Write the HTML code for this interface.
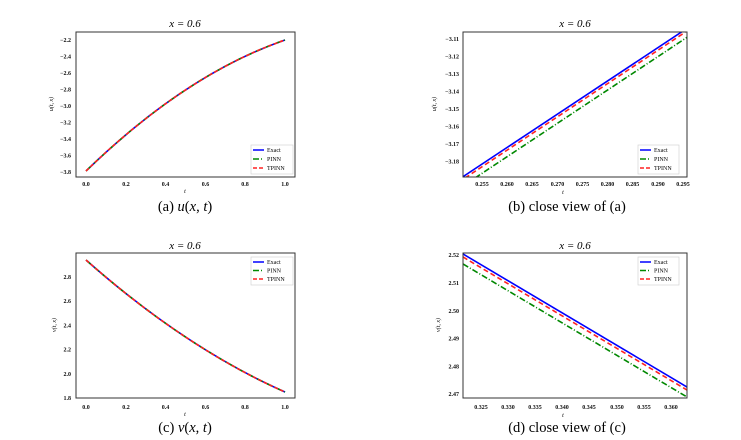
<!DOCTYPE html>
<html><head><meta charset="utf-8"><style>
body{margin:0;background:#fff}
svg{display:block}
.t{font-family:"Liberation Serif",serif;font-size:6px;font-weight:bold;fill:#111}
.ti{font-family:"Liberation Serif",serif;font-size:11px;font-style:italic}
.cap{font-family:"Liberation Serif",serif;font-size:14.5px}
.lg{font-family:"Liberation Serif",serif;font-size:6px}
</style></head><body>
<svg width="741" height="440" viewBox="0 0 741 440" xmlns="http://www.w3.org/2000/svg">
<rect width="741" height="440" fill="#fff"/>
<g id="a">
<text x="185" y="27" text-anchor="middle" class="ti">x = 0.6</text>
<path d="M86,171 Q185.5,74.5 285,40" fill="none" stroke="#00f" stroke-width="1.6"/>
<path d="M86,171 Q185.5,74.5 285,40" fill="none" stroke="#080" stroke-width="1.6" stroke-dasharray="6,2,1,2"/>
<path d="M86,171 Q185.5,74.5 285,40" fill="none" stroke="#f22" stroke-width="1.6" stroke-dasharray="4,2"/>
<rect x="76" y="32" width="219" height="145" fill="none" stroke="#333" stroke-width="1"/>
<g class="t" text-anchor="end">
<text x="71" y="42">−2.2</text><text x="71" y="58.5">−2.4</text><text x="71" y="75">−2.6</text><text x="71" y="91.5">−2.8</text><text x="71" y="108">−3.0</text><text x="71" y="124.5">−3.2</text><text x="71" y="141">−3.4</text><text x="71" y="157.5">−3.6</text><text x="71" y="174">−3.8</text></g>
<g class="t" text-anchor="middle">
<text x="86" y="186">0.0</text><text x="126" y="186">0.2</text><text x="165.5" y="186">0.4</text><text x="205.5" y="186">0.6</text><text x="245" y="186">0.8</text><text x="285" y="186">1.0</text></g>
<text x="185" y="193" class="lg" font-style="italic" text-anchor="middle">t</text>
<text x="53" y="104" class="lg" font-style="italic" text-anchor="middle" transform="rotate(-90 53 104)">u(t, x)</text>
<g><rect x="251" y="145" width="42" height="29" fill="#fff" stroke="#ccc" stroke-width="0.6"/>
<line x1="253" y1="150" x2="264" y2="150" stroke="#00f" stroke-width="1.5"/><text x="267" y="152" class="lg">Exact</text>
<line x1="253" y1="159" x2="264" y2="159" stroke="#080" stroke-width="1.5" stroke-dasharray="6,2,1,2"/><text x="267" y="161" class="lg">PINN</text>
<line x1="253" y1="168" x2="264" y2="168" stroke="#f22" stroke-width="1.5" stroke-dasharray="4,2"/><text x="267" y="170" class="lg">TPINN</text></g>
<text x="185" y="211" text-anchor="middle" class="cap">(a)  <tspan font-style="italic">u</tspan>(<tspan font-style="italic">x</tspan>, <tspan font-style="italic">t</tspan>)</text>
</g>

<g id="b">
<text x="575" y="27" text-anchor="middle" class="ti">x = 0.6</text>
<clipPath id="cb"><rect x="463" y="32" width="224" height="145"/></clipPath>
<g clip-path="url(#cb)">
<line x1="461" y1="178" x2="683" y2="31" stroke="#00f" stroke-width="1.6"/>
<line x1="465" y1="178" x2="687" y2="31" stroke="#f22" stroke-width="1.6" stroke-dasharray="5,3"/>
<line x1="475" y1="178" x2="689" y2="36" stroke="#080" stroke-width="1.6" stroke-dasharray="6,2,1,2"/>
</g>
<rect x="463" y="32" width="224" height="145" fill="none" stroke="#333" stroke-width="1"/>
<g class="t" text-anchor="end">
<text x="459" y="41">−3.11</text><text x="459" y="58.5">−3.12</text><text x="459" y="76">−3.13</text><text x="459" y="93.5">−3.14</text><text x="459" y="111">−3.15</text><text x="459" y="128.5">−3.16</text><text x="459" y="146">−3.17</text><text x="459" y="163.5">−3.18</text></g>
<g class="t" text-anchor="middle">
<text x="482" y="186">0.255</text><text x="507" y="186">0.260</text><text x="532" y="186">0.265</text><text x="557.5" y="186">0.270</text><text x="582.5" y="186">0.275</text><text x="607.5" y="186">0.280</text><text x="632.5" y="186">0.285</text><text x="658" y="186">0.290</text><text x="683" y="186">0.295</text></g>
<text x="563" y="194" class="lg" font-style="italic" text-anchor="middle">t</text>
<text x="436" y="104" class="lg" font-style="italic" text-anchor="middle" transform="rotate(-90 436 104)">u(t, x)</text>
<g><rect x="638" y="145" width="41" height="29" fill="#fff" stroke="#ccc" stroke-width="0.6"/>
<line x1="640" y1="150" x2="651" y2="150" stroke="#00f" stroke-width="1.5"/><text x="654" y="152" class="lg">Exact</text>
<line x1="640" y1="159" x2="651" y2="159" stroke="#080" stroke-width="1.5" stroke-dasharray="6,2,1,2"/><text x="654" y="161" class="lg">PINN</text>
<line x1="640" y1="168" x2="651" y2="168" stroke="#f22" stroke-width="1.5" stroke-dasharray="4,2"/><text x="654" y="170" class="lg">TPINN</text></g>
<text x="567" y="211" text-anchor="middle" class="cap">(b)  close view of (a)</text>
</g>

<g id="c">
<text x="185" y="249" text-anchor="middle" class="ti">x = 0.6</text>
<path d="M86,260 Q185.5,348 285,392" fill="none" stroke="#00f" stroke-width="1.6"/>
<path d="M86,260 Q185.5,348 285,392" fill="none" stroke="#080" stroke-width="1.6" stroke-dasharray="6,2,1,2"/>
<path d="M86,260 Q185.5,348 285,392" fill="none" stroke="#f22" stroke-width="1.6" stroke-dasharray="4,2"/>
<rect x="76" y="253" width="219" height="145" fill="none" stroke="#333" stroke-width="1"/>
<g class="t" text-anchor="end">
<text x="71" y="279">2.8</text><text x="71" y="303">2.6</text><text x="71" y="327.5">2.4</text><text x="71" y="351.5">2.2</text><text x="71" y="376">2.0</text><text x="71" y="400">1.8</text></g>
<g class="t" text-anchor="middle">
<text x="86" y="409">0.0</text><text x="126" y="409">0.2</text><text x="165.5" y="409">0.4</text><text x="205.5" y="409">0.6</text><text x="245" y="409">0.8</text><text x="285" y="409">1.0</text></g>
<text x="185" y="416" class="lg" font-style="italic" text-anchor="middle">t</text>
<text x="56" y="325" class="lg" font-style="italic" text-anchor="middle" transform="rotate(-90 56 325)">v(t, x)</text>
<g><rect x="251" y="257" width="42" height="28" fill="#fff" stroke="#ccc" stroke-width="0.6"/>
<line x1="253" y1="262" x2="264" y2="262" stroke="#00f" stroke-width="1.5"/><text x="267" y="264" class="lg">Exact</text>
<line x1="253" y1="270.5" x2="264" y2="270.5" stroke="#080" stroke-width="1.5" stroke-dasharray="6,2,1,2"/><text x="267" y="272.5" class="lg">PINN</text>
<line x1="253" y1="279" x2="264" y2="279" stroke="#f22" stroke-width="1.5" stroke-dasharray="4,2"/><text x="267" y="281" class="lg">TPINN</text></g>
<text x="185" y="432" text-anchor="middle" class="cap">(c)  <tspan font-style="italic">v</tspan>(<tspan font-style="italic">x</tspan>, <tspan font-style="italic">t</tspan>)</text>
</g>

<g id="d">
<text x="575" y="249" text-anchor="middle" class="ti">x = 0.6</text>
<clipPath id="cd"><rect x="463" y="253" width="224" height="145"/></clipPath>
<g clip-path="url(#cd)">
<line x1="463" y1="254" x2="687" y2="387" stroke="#00f" stroke-width="1.6"/>
<line x1="463" y1="257" x2="687" y2="390" stroke="#f22" stroke-width="1.6" stroke-dasharray="5,3"/>
<line x1="463" y1="264" x2="687" y2="397" stroke="#080" stroke-width="1.6" stroke-dasharray="6,2,1,2"/>
</g>
<rect x="463" y="253" width="224" height="145" fill="none" stroke="#333" stroke-width="1"/>
<g class="t" text-anchor="end">
<text x="459" y="257">2.52</text><text x="459" y="285">2.51</text><text x="459" y="313">2.50</text><text x="459" y="340.5">2.49</text><text x="459" y="368.5">2.48</text><text x="459" y="396">2.47</text></g>
<g class="t" text-anchor="middle">
<text x="481" y="409">0.325</text><text x="508" y="409">0.330</text><text x="535" y="409">0.335</text><text x="562" y="409">0.340</text><text x="589" y="409">0.345</text><text x="617" y="409">0.350</text><text x="644" y="409">0.355</text><text x="671" y="409">0.360</text></g>
<text x="563" y="417" class="lg" font-style="italic" text-anchor="middle">t</text>
<text x="440" y="325" class="lg" font-style="italic" text-anchor="middle" transform="rotate(-90 440 325)">v(t, x)</text>
<g><rect x="638" y="257" width="41" height="28" fill="#fff" stroke="#ccc" stroke-width="0.6"/>
<line x1="640" y1="262" x2="651" y2="262" stroke="#00f" stroke-width="1.5"/><text x="654" y="264" class="lg">Exact</text>
<line x1="640" y1="270.5" x2="651" y2="270.5" stroke="#080" stroke-width="1.5" stroke-dasharray="6,2,1,2"/><text x="654" y="272.5" class="lg">PINN</text>
<line x1="640" y1="279" x2="651" y2="279" stroke="#f22" stroke-width="1.5" stroke-dasharray="4,2"/><text x="654" y="281" class="lg">TPINN</text></g>
<text x="567" y="432" text-anchor="middle" class="cap">(d)  close view of (c)</text>
</g>
</svg>
</body></html>
